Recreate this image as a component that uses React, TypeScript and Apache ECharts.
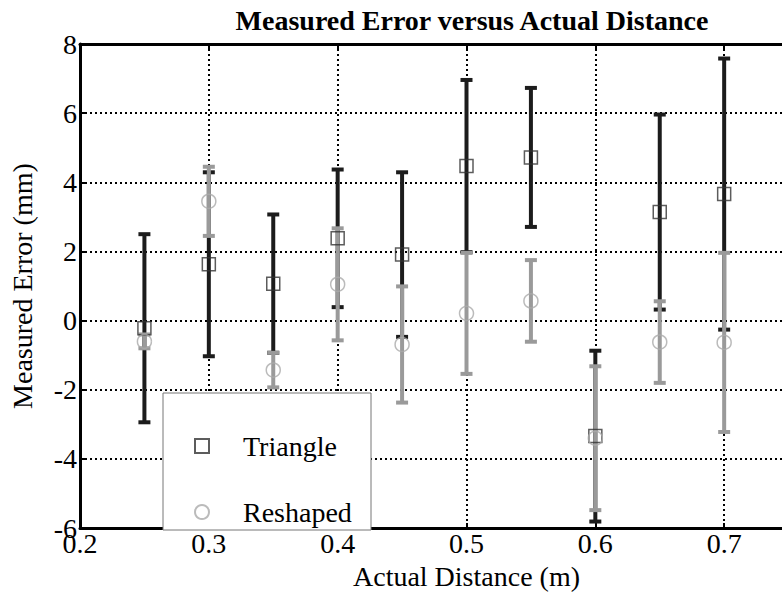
import React, { useEffect, useRef } from "react";
import * as echarts from "echarts";

const distances = [0.25, 0.3, 0.35, 0.4, 0.45, 0.5, 0.55, 0.6, 0.65, 0.7];
const triangleMean = [-0.22, 1.63, 1.07, 2.38, 1.91, 4.47, 4.72, -3.34, 3.14, 3.66];
const triangleErr = [2.72, 2.66, 2.0, 1.99, 2.38, 2.49, 2.01, 2.47, 2.82, 3.92];
const reshapedMean = [-0.6, 3.45, -1.43, 1.05, -0.69, 0.21, 0.57, -3.4, -0.62, -0.63];
const reshapedErr = [0.2, 1.0, 0.5, 1.62, 1.68, 1.75, 1.18, 2.08, 1.18, 2.59];

const FONT = "Liberation Serif, Times New Roman, serif";
const BLACK_BAR = "#1c1c1c";
const GREY_BAR = "#9a9a9a";

function barData(mean: number[], err: number[]) {
  return distances.map((x, i) => [x, mean[i] - err[i], mean[i] + err[i]]);
}

function makeErrorRender(color: string) {
  return (params: any, api: any) => {
    const x = api.value(0);
    const lo = api.value(1);
    const hi = api.value(2);
    const top = api.coord([x, hi]);
    const bot = api.coord([x, lo]);
    const capW = 12;
    const capH = 4;
    return {
      type: "group",
      children: [
        {
          type: "rect",
          shape: { x: top[0] - 2, y: top[1], width: 4, height: bot[1] - top[1] },
          style: { fill: color },
        },
        {
          type: "rect",
          shape: { x: top[0] - capW / 2, y: top[1] - capH / 2, width: capW, height: capH },
          style: { fill: color },
        },
        {
          type: "rect",
          shape: { x: bot[0] - capW / 2, y: bot[1] - capH / 2, width: capW, height: capH },
          style: { fill: color },
        },
      ],
    };
  };
}

export default function App() {
  const ref = useRef<HTMLDivElement>(null);
  useEffect(() => {
    if (!ref.current) return;
    const chart = echarts.init(ref.current, null, { renderer: "svg" });
    const axisLine = { show: true, onZero: false, lineStyle: { color: "#000", width: 3 } };
    const tick = { show: true, inside: true, length: 5, lineStyle: { color: "#000", width: 2 } };
    const option: any = {
      animation: false,
      backgroundColor: "#fff",
      title: {
        text: "Measured Error versus Actual Distance",
        left: 467,
        top: 1,
        textAlign: "center",
        textStyle: { fontFamily: FONT, fontWeight: "bold", fontSize: 28, color: "#000" },
      },
      grid: { left: 80, top: 44, width: 773, height: 488, containLabel: false },
      xAxis: [
        {
          type: "value",
          min: 0.2,
          max: 0.8,
          interval: 0.1,
          position: "bottom",
          name: "Actual Distance (m)",
          nameLocation: "middle",
          nameGap: 30,
          nameTextStyle: { fontFamily: FONT, fontSize: 28, color: "#000" },
          axisLine,
          axisTick: tick,
          axisLabel: {
            fontFamily: FONT,
            fontSize: 28,
            color: "#000",
            margin: 1,
            showMaxLabel: false,
            formatter: (v: number) => v.toFixed(1),
          },
          splitLine: { show: true, lineStyle: { color: "#000", width: 2, type: [2, 3] } },
        },
        {
          type: "value",
          min: 0.2,
          max: 0.8,
          interval: 0.1,
          position: "top",
          axisLine,
          axisTick: tick,
          axisLabel: { show: false },
          splitLine: { show: false },
        },
      ],
      yAxis: {
        type: "value",
        min: -6,
        max: 8,
        interval: 2,
        name: "Measured Error (mm)",
        nameLocation: "middle",
        nameGap: 44,
        nameTextStyle: { fontFamily: FONT, fontSize: 28, color: "#000" },
        axisLine,
        axisTick: tick,
        axisLabel: { fontFamily: FONT, fontSize: 28, color: "#000", margin: 3 },
        splitLine: { show: true, lineStyle: { color: "#000", width: 2, type: [2, 3] } },
      },
      legend: {
        data: ["Triangle", "Reshaped"],
        orient: "vertical",
        left: 189,
        top: 426,
        itemWidth: 14,
        itemHeight: 14,
        itemGap: 36,
        z: 10,
        textStyle: { fontFamily: FONT, fontSize: 28, color: "#000", lineHeight: 30, padding: [0, 0, 0, 29] },
      },
      graphic: {
        elements: [
          {
            type: "rect",
            z: 8,
            shape: { x: 163, y: 393, width: 208, height: 137 },
            style: { fill: "#fff", stroke: "#777", lineWidth: 1 },
          },
        ],
      },
      series: [
        {
          name: "Triangle bars",
          type: "custom",
          renderItem: makeErrorRender(BLACK_BAR),
          data: barData(triangleMean, triangleErr),
          encode: { x: 0, y: [1, 2] },
          z: 2,
        },
        {
          name: "Reshaped bars",
          type: "custom",
          renderItem: makeErrorRender(GREY_BAR),
          data: barData(reshapedMean, reshapedErr),
          encode: { x: 0, y: [1, 2] },
          z: 3,
        },
        {
          name: "Triangle",
          type: "scatter",
          symbol: "rect",
          symbolSize: 13,
          data: distances.map((x, i) => [x, triangleMean[i]]),
          itemStyle: { color: "rgba(255,255,255,0)", borderColor: "#333", borderWidth: 1.5 },
          z: 4,
        },
        {
          name: "Reshaped",
          type: "scatter",
          symbol: "circle",
          symbolSize: 14,
          data: distances.map((x, i) => [x, reshapedMean[i]]),
          itemStyle: { color: "rgba(255,255,255,0)", borderColor: "#aaa", borderWidth: 1.5 },
          z: 5,
        },
      ],
    };
    chart.setOption(option);
    return () => chart.dispose();
  }, []);
  return (
    <div style={{ position: "absolute", left: 0, top: 0, width: 782, height: 595, overflow: "hidden" }}>
      <div ref={ref} style={{ width: 900, height: 595 }} />
    </div>
  );
}
